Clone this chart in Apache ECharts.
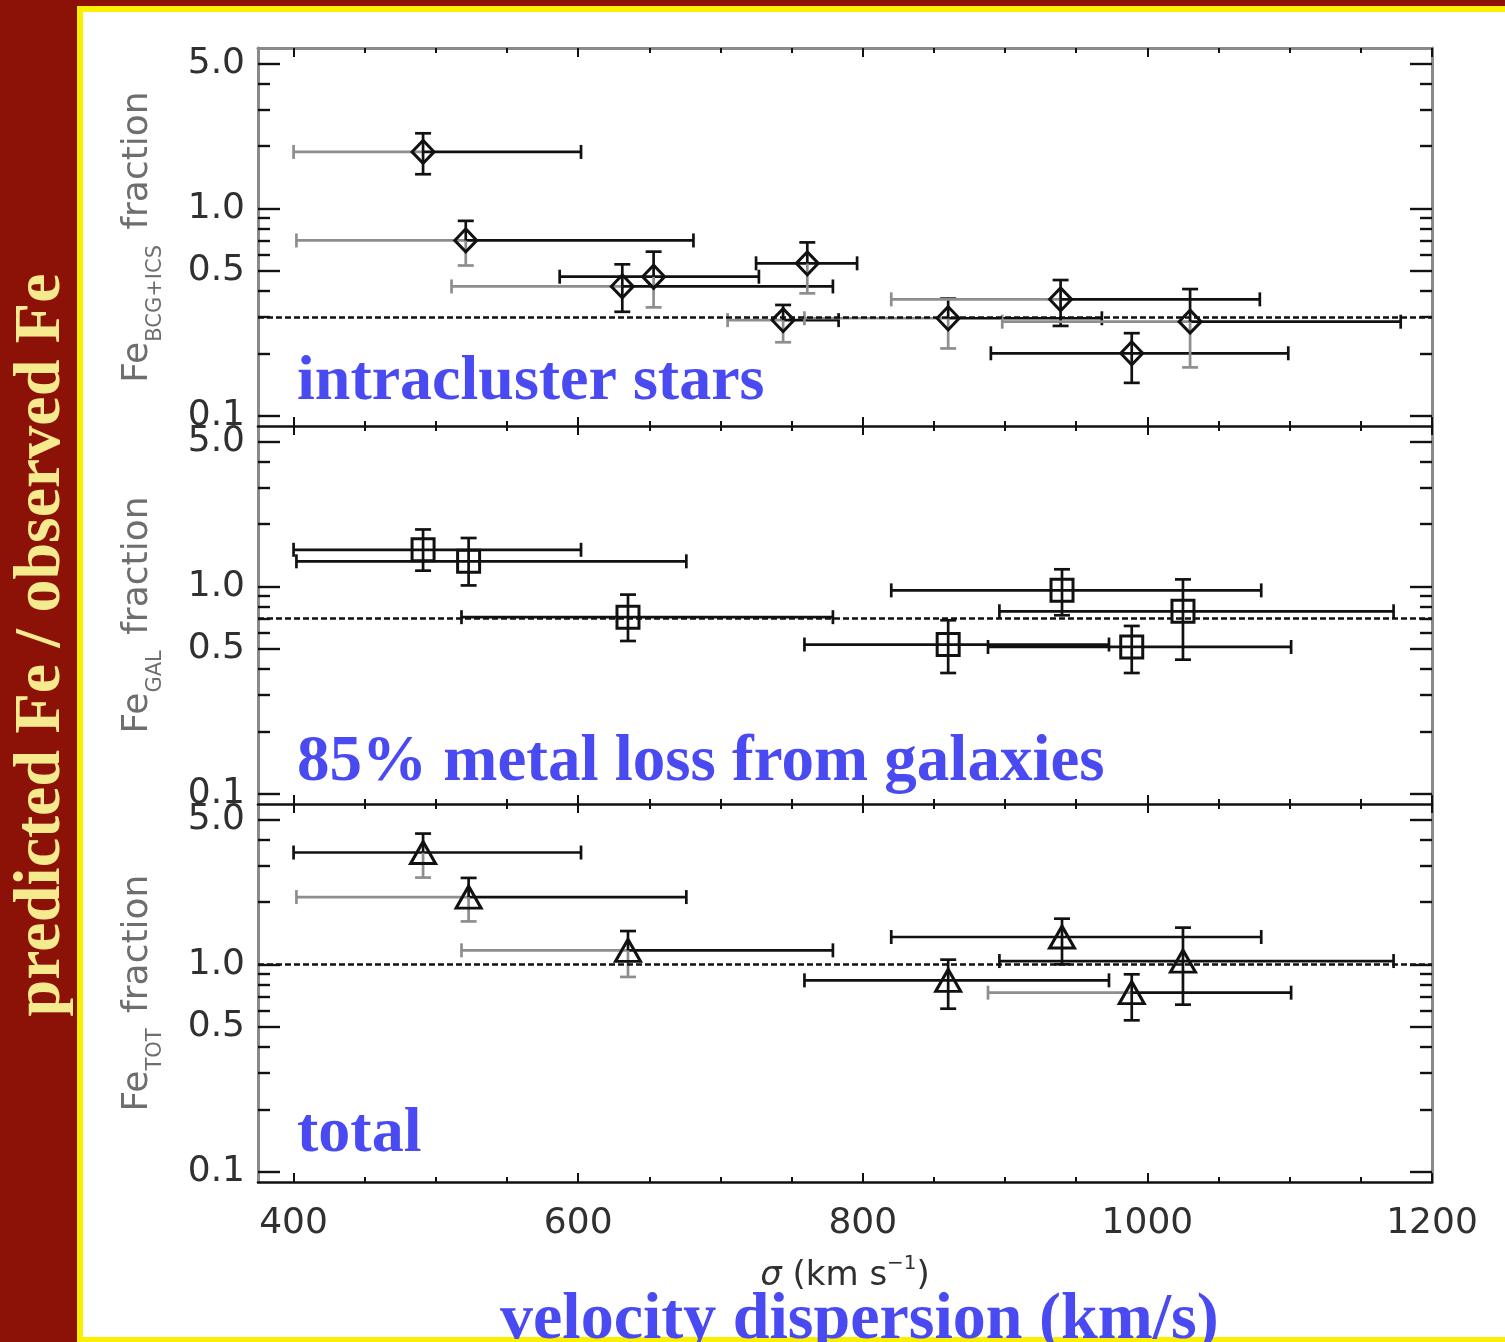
<!DOCTYPE html>
<html>
<head>
<meta charset="utf-8">
<title>Predicted / observed Fe versus velocity dispersion</title>
<script src="https://cdn.jsdelivr.net/npm/echarts@6/dist/echarts.min.js"></script>
<style>
  html, body { margin: 0; padding: 0; background: #ffffff; }
  #chart { width: 1505px; height: 1342px; }
</style>
</head>
<body>
<div id="chart"></div>
<script>
// ---- axis ticks and labels ----
const X_LABELS = [400, 600, 800, 1000, 1200];
const X_MINOR = [450, 500, 550, 650, 700, 750, 850, 900, 950, 1050, 1100, 1150];
const Y_LABELS = [0.1, 0.5, 1, 5];
const Y_MINOR = [0.2, 0.3, 0.4, 0.6, 0.7, 0.8, 0.9, 2, 3, 4];

// ---- reference levels (dashed lines) ----
const refLevels = [0.3, 0.7, 1.0];

// ---- panel 1: Fe from BCG + intracluster stars ----
const icsSigma   = [491, 521, 631, 653, 744, 761, 860, 939, 989, 1030];
const icsSigmaLo = [400, 402, 511, 587, 705, 725, 759, 820, 890, 898];
const icsSigmaHi = [602, 681, 779, 727, 783, 796, 968, 1079, 1099, 1178];
const icsFe      = [1.87, 0.70, 0.42, 0.468, 0.289, 0.543, 0.295, 0.364, 0.20, 0.284];
const icsFeLo    = [1.46, 0.53, 0.317, 0.333, 0.226, 0.389, 0.211, 0.271, 0.144, 0.171];
const icsFeHi    = [2.30, 0.87, 0.537, 0.618, 0.342, 0.685, 0.367, 0.451, 0.25, 0.408];

// ---- panel 2: Fe lost from galaxies ----
const galSigma   = [491, 523, 635, 860, 940, 989, 1025];
const galSigmaLo = [400, 402, 518, 759, 820, 888, 896];
const galSigmaHi = [602, 676, 779, 973, 1080, 1101, 1173];
const galFe      = [1.50, 1.32, 0.71, 0.524, 0.956, 0.51, 0.758];
const galFeLo    = [1.19, 1.01, 0.545, 0.382, 0.725, 0.382, 0.443];
const galFeHi    = [1.88, 1.71, 0.912, 0.686, 1.208, 0.644, 1.08];

// ---- panel 3: total Fe ----
const totSigma   = [491, 523, 635, 860, 940, 989, 1025];
const totSigmaLo = [400, 402, 518, 759, 820, 888, 896];
const totSigmaHi = [602, 676, 779, 973, 1080, 1101, 1173];
const totFe      = [3.46, 2.11, 1.168, 0.837, 1.354, 0.730, 1.037];
const totFeLo    = [2.62, 1.61, 0.869, 0.611, 1.00, 0.537, 0.639];
const totFeHi    = [4.27, 2.61, 1.447, 1.053, 1.66, 0.895, 1.503];

// ---- which error-bar halves are printed faint (lower sigma side / lower Fe side) ----
const icsFaintLeft = [0, 1, 2, 4, 6, 7, 9];
const icsFaintDown = [1, 3, 4, 5, 6, 9];
const galFaintLeft = [];
const galFaintDown = [];
const totFaintLeft = [1, 2, 5];
const totFaintDown = [0, 1, 2];

// ---- layout ----
const X_MIN = 375, X_MAX = 1200;
const Y_MIN = 0.0892, Y_MAX = 5.93;
const GRID_LEFT = 258, GRID_RIGHT = 73, GRID_H = 378;
const GRID_TOPS = [48, 426, 804];

const INK = '#111111';
const FAINT = '#8e8e8e';
const FRAME = '#8a8a8a';
const BLUE = '#4a4af2';
const RED = '#8c1207';
const YELLOW = '#fbf000';
const PALE = '#f6ea8f';
const SANS = 'DejaVu Sans';

function buildRows(sig, sigLo, sigHi, fe, feLo, feHi, faintLeft, faintDown) {
  return sig.map((s, i) => [s, fe[i], sigLo[i], sigHi[i], feLo[i], feHi[i],
    faintLeft.includes(i) ? 1 : 0, faintDown.includes(i) ? 1 : 0]);
}

function renderErrorBars(params, api) {
  const x = api.value(0), y = api.value(1);
  const c = api.coord([x, y]);
  const pl = api.coord([api.value(2), y]);
  const ph = api.coord([api.value(3), y]);
  const pd = api.coord([x, api.value(4)]);
  const pu = api.coord([x, api.value(5)]);
  const leftCol = api.value(6) ? FAINT : INK;
  const downCol = api.value(7) ? FAINT : INK;
  const capH = 7, capW = 8;
  const seg = (x1, y1, x2, y2, col) => ({
    type: 'line', shape: { x1, y1, x2, y2 },
    style: { stroke: col, lineWidth: 2.7 }
  });
  return {
    type: 'group',
    children: [
      seg(pl[0], c[1], c[0], c[1], leftCol),
      seg(pl[0], c[1] - capH, pl[0], c[1] + capH, leftCol),
      seg(c[0], c[1], ph[0], c[1], INK),
      seg(ph[0], c[1] - capH, ph[0], c[1] + capH, INK),
      seg(c[0], c[1], c[0], pd[1], downCol),
      seg(c[0] - capW, pd[1], c[0] + capW, pd[1], downCol),
      seg(c[0], c[1], c[0], pu[1], INK),
      seg(c[0] - capW, pu[1], c[0] + capW, pu[1], INK)
    ]
  };
}

const labelFont = { fontFamily: SANS, fontSize: 36, color: '#303030' };

function xAxesFor(g) {
  const base = {
    type: 'value', gridIndex: g, min: X_MIN, max: X_MAX,
    splitLine: { show: false }, axisLabel: { show: false },
    axisLine: { show: false, onZero: false }
  };
  const tickStyle = { color: INK, width: 2 };
  const bottomMajor = Object.assign({}, base, {
    position: 'bottom',
    axisLine: { show: true, onZero: false, lineStyle: { color: INK, width: 2.6 } },
    axisTick: { inside: true, length: 9, customValues: X_LABELS, lineStyle: tickStyle },
    axisLabel: g === 2
      ? Object.assign({ show: true, customValues: X_LABELS, margin: 24,
                        formatter: v => String(Math.round(v)) }, labelFont)
      : { show: false }
  });
  if (g === 2) {
    bottomMajor.name = '{s|σ} (km s{p|−1})';
    bottomMajor.nameLocation = 'middle';
    bottomMajor.nameGap = 72;
    bottomMajor.nameTextStyle = {
      fontFamily: SANS, fontSize: 34, color: '#303030',
      rich: {
        s: { fontFamily: SANS, fontSize: 34, fontStyle: 'italic', color: '#303030', lineHeight: 44 },
        p: { fontFamily: SANS, fontSize: 20, color: '#303030', verticalAlign: 'top', lineHeight: 24 }
      }
    };
  }
  const bottomMinor = Object.assign({}, base, {
    position: 'bottom',
    axisTick: { inside: true, length: 5, customValues: X_MINOR, lineStyle: tickStyle }
  });
  const topMajor = Object.assign({}, base, {
    position: 'top',
    axisLine: { show: g === 0, onZero: false, lineStyle: { color: FRAME, width: 3 } },
    axisTick: { inside: true, length: 9, customValues: X_LABELS, lineStyle: tickStyle }
  });
  const topMinor = Object.assign({}, base, {
    position: 'top',
    axisTick: { inside: true, length: 5, customValues: X_MINOR, lineStyle: tickStyle }
  });
  return [bottomMajor, bottomMinor, topMajor, topMinor];
}

function yAxesFor(g, sub) {
  const base = {
    type: 'log', logBase: 10, gridIndex: g, min: Y_MIN, max: Y_MAX,
    splitLine: { show: false }, axisLabel: { show: false },
    axisLine: { show: false, onZero: false }
  };
  const tickStyle = { color: INK, width: 2.4 };
  const leftMajor = Object.assign({}, base, {
    position: 'left',
    axisLine: { show: true, onZero: false, lineStyle: { color: FRAME, width: 3 } },
    axisTick: { inside: true, length: 22, customValues: Y_LABELS, lineStyle: tickStyle },
    axisLabel: Object.assign({
      show: true, customValues: Y_LABELS, margin: 13,
      formatter: v => Number(v).toFixed(1)
    }, labelFont),
    name: '{n|Fe}{s|' + sub + '}{n| fraction}',
    nameLocation: 'middle',
    nameGap: 92,
    nameTextStyle: {
      color: '#6e6e6e',
      rich: {
        n: { fontFamily: SANS, fontSize: 36, color: '#6e6e6e', lineHeight: 56 },
        s: { fontFamily: SANS, fontSize: 21, color: '#6e6e6e', verticalAlign: 'bottom',
             lineHeight: 24, padding: [0, 4, 0, 0] }
      }
    }
  });
  const leftMinor = Object.assign({}, base, {
    position: 'left',
    axisTick: { inside: true, length: 12, customValues: Y_MINOR, lineStyle: tickStyle }
  });
  const rightMajor = Object.assign({}, base, {
    position: 'right',
    axisLine: { show: true, onZero: false, lineStyle: { color: FRAME, width: 3 } },
    axisTick: { inside: true, length: 22, customValues: Y_LABELS, lineStyle: tickStyle }
  });
  const rightMinor = Object.assign({}, base, {
    position: 'right',
    axisTick: { inside: true, length: 12, customValues: Y_MINOR, lineStyle: tickStyle }
  });
  return [leftMajor, leftMinor, rightMajor, rightMinor];
}

const panels = [
  { sub: 'BCG+ICS', symbol: 'diamond', size: [22, 23],
    rows: buildRows(icsSigma, icsSigmaLo, icsSigmaHi, icsFe, icsFeLo, icsFeHi, icsFaintLeft, icsFaintDown) },
  { sub: 'GAL', symbol: 'rect', size: [22, 22],
    rows: buildRows(galSigma, galSigmaLo, galSigmaHi, galFe, galFeLo, galFeHi, galFaintLeft, galFaintDown) },
  { sub: 'TOT', symbol: 'triangle', size: [25, 22],
    rows: buildRows(totSigma, totSigmaLo, totSigmaHi, totFe, totFeLo, totFeHi, totFaintLeft, totFaintDown) }
];

const grids = [], xAxes = [], yAxes = [], series = [];
panels.forEach((p, g) => {
  grids.push({ left: GRID_LEFT, right: GRID_RIGHT, top: GRID_TOPS[g], height: GRID_H });
  xAxes.push(...xAxesFor(g));
  yAxes.push(...yAxesFor(g, p.sub));
  series.push({
    type: 'custom',
    xAxisIndex: 4 * g, yAxisIndex: 4 * g,
    renderItem: renderErrorBars,
    encode: { x: [0, 2, 3], y: [1, 4, 5] },
    data: p.rows,
    silent: true,
    z: 3
  });
  series.push({
    type: 'scatter',
    xAxisIndex: 4 * g, yAxisIndex: 4 * g,
    symbol: p.symbol,
    symbolSize: p.size,
    data: p.rows.map(r => [r[0], r[1]]),
    itemStyle: { color: 'rgba(0,0,0,0)', borderColor: INK, borderWidth: 3, opacity: 1 },
    silent: true,
    z: 4,
    markLine: {
      silent: true,
      symbol: ['none', 'none'],
      label: { show: false },
      lineStyle: { color: INK, width: 2.6, type: [6, 3] },
      data: [{ yAxis: refLevels[g] }]
    }
  });
});

const option = {
  animation: false,
  backgroundColor: '#ffffff',
  grid: grids,
  xAxis: xAxes,
  yAxis: yAxes,
  series: series,
  graphic: [
    // frame band and borders
    { type: 'rect', shape: { x: 0, y: 0, width: 78, height: 1342 }, style: { fill: RED }, z: 0 },
    { type: 'rect', shape: { x: 0, y: 0, width: 1505, height: 6 }, style: { fill: RED }, z: 0 },
    { type: 'rect', shape: { x: 77, y: 6, width: 1428, height: 6 }, style: { fill: YELLOW }, z: 0 },
    { type: 'rect', shape: { x: 77, y: 6, width: 6, height: 1336 }, style: { fill: YELLOW }, z: 0 },
    { type: 'rect', shape: { x: 77, y: 1337, width: 1428, height: 5 }, style: { fill: YELLOW }, z: 0 },
    // vertical caption in the band
    { type: 'text', x: 42, y: 645, rotation: Math.PI / 2, z: 5,
      style: { text: 'predicted Fe / observed Fe', fill: PALE, font: 'bold 66px "Liberation Serif"',
               textAlign: 'center', textVerticalAlign: 'middle' } },
    // panel captions
    { type: 'text', x: 297, y: 414, z: 5,
      style: { text: 'intracluster stars', fill: BLUE, font: 'bold 64px "Liberation Serif"',
               textAlign: 'left', textVerticalAlign: 'bottom' } },
    { type: 'text', x: 297, y: 796, z: 5,
      style: { text: '85% metal loss from galaxies', fill: BLUE, font: 'bold 65px "Liberation Serif"',
               textAlign: 'left', textVerticalAlign: 'bottom' } },
    { type: 'text', x: 297, y: 1166, z: 5,
      style: { text: 'total', fill: BLUE, font: 'bold 64px "Liberation Serif"',
               textAlign: 'left', textVerticalAlign: 'bottom' } },
    { type: 'text', x: 500, y: 1354, z: 5,
      style: { text: 'velocity dispersion (km/s)', fill: BLUE, font: 'bold 66px "Liberation Serif"',
               textAlign: 'left', textVerticalAlign: 'bottom' } }
  ]
};

const chart = echarts.init(document.getElementById('chart'), null, { renderer: 'canvas' });
chart.setOption(option);
</script>
</body>
</html>
